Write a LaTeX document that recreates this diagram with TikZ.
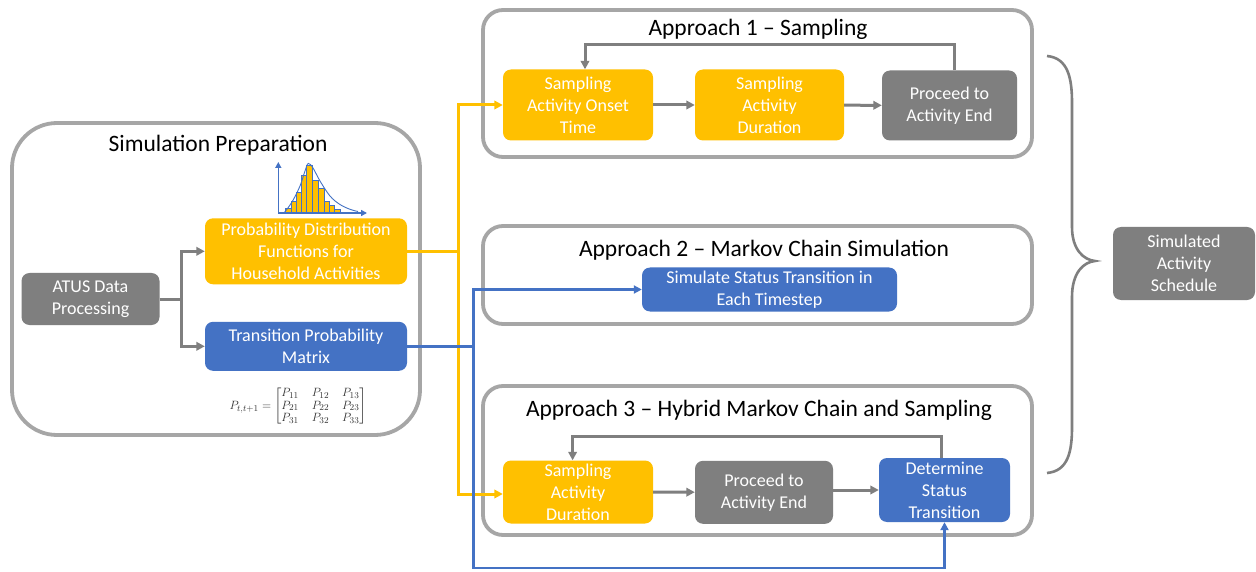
\documentclass[tikz,border=0pt]{standalone}
\usepackage{fontspec}
\setmainfont{Carlito}
\usepackage{amsmath}
\usetikzlibrary{arrows.meta}
\definecolor{cyel}{HTML}{FFC000}
\definecolor{cblue}{HTML}{4472C4}
\definecolor{cgray}{HTML}{7F7F7F}
\definecolor{cborder}{HTML}{A6A6A6}
\begin{document}
\begin{tikzpicture}[x=1pt,y=-1pt,
  container/.style={draw=cborder, line width=3.8pt, rounded corners=20pt, inner sep=0pt},
  boxbase/.style={rounded corners=8pt, text=white, align=center, font=\fontsize{18}{22}\selectfont, inner sep=0pt},
  ybox/.style={boxbase, fill=cyel},
  bbox/.style={boxbase, fill=cblue},
  gbox/.style={boxbase, fill=cgray},
  ttl/.style={anchor=base, font=\fontsize{23.5}{28}\selectfont, inner sep=0pt},
  garrow/.style={draw=cgray, line width=3pt, -{Triangle[length=8.5pt,width=8.5pt]}},
  yarrow/.style={draw=cyel, line width=3pt, -{Triangle[length=8.5pt,width=8.5pt]}},
  barrow/.style={draw=cblue, line width=2.5pt, -{Triangle[length=8pt,width=8pt]}},
]
\useasboundingbox (0,0) rectangle (1256,572);
\fill[white] (0,0) rectangle (1256,572);

% containers
\node[container, rounded corners=45pt, minimum width=408, minimum height=312] (prep) at (216,279) {};
\node[container, minimum width=549, minimum height=147] (ap1) at (757.5,83.5) {};
\node[container, minimum width=549, minimum height=98] (ap2) at (757.5,275) {};
\node[container, minimum width=549, minimum height=149] (ap3) at (757.5,460.5) {};

% titles
\node[ttl] (tprep) at (218,151.7) {Simulation Preparation};
\node[ttl] (tap1) at (758,35.7) {Approach 1 – Sampling};
\node[ttl] (tap2) at (764,256.7) {Approach 2 – Markov Chain Simulation};
\node[ttl] (tap3) at (759,416.7) {Approach 3 – Hybrid Markov Chain and Sampling};

% simulation preparation boxes
\node[gbox, minimum width=138, minimum height=52] (atus) at (90.5,299) {ATUS Data\\Processing};
\node[ybox, minimum width=202, minimum height=66] (pdf) at (306,251.3) {Probability Distribution\\Functions for\\Household Activities};
\node[bbox, minimum width=202, minimum height=49] (tpm) at (306,346.3) {Transition Probability\\Matrix};

% histogram
\foreach \xa/\xb/\yt in {285.7/291/208.3, 291/296.3/201.7, 296.3/301.7/192.7, 301.7/306.7/175, 306.7/312.3/165, 312.3/318.3/180.7, 318.3/324/188.3, 324/329.3/201.7, 329.3/334.7/205, 334.7/340/209.3}
  \filldraw[fill=cyel, draw=cblue, line width=0.6pt] (\xa,213) rectangle (\xb,\yt);
\draw[cblue, line width=0.9pt] plot[smooth, tension=0.6] coordinates {(284,213) (292,202) (300,186) (305,171) (308.3,163.5) (313,168) (320,181) (330,196) (340,204.5) (350,209.3) (358,211.5)};
\draw[cblue, line width=1.6pt, -{Triangle[length=6pt,width=6pt]}] (278.3,213) -- (278.3,162);
\draw[cblue, line width=1.6pt, -{Triangle[length=6pt,width=6pt]}] (278.3,213) -- (367,213);

% matrix
\node[font=\fontsize{12.5}{12.5}\selectfont, text=black!80, inner sep=0pt] (mat) at (298,406.5)
  {\setlength\arraycolsep{6.5pt}$P_{t,t+1} = \begin{bmatrix} P_{11} & P_{12} & P_{13}\\ P_{21} & P_{22} & P_{23}\\ P_{31} & P_{32} & P_{33}\end{bmatrix}$};

% approach 1
\node[ybox, minimum width=150, minimum height=71] (onset) at (578,105) {Sampling\\Activity Onset\\Time};
\node[ybox, minimum width=149, minimum height=71] (dur1) at (769.5,105) {Sampling\\Activity\\Duration};
\node[gbox, minimum width=135, minimum height=70] (proc1) at (949.5,105.5) {Proceed to\\Activity End};

% approach 2
\node[bbox, minimum width=255, minimum height=44] (sim) at (769.5,289.5) {Simulate Status Transition in\\Each Timestep};

% approach 3
\node[ybox, minimum width=150, minimum height=63] (dur3) at (578,492) {Sampling\\Activity\\Duration};
\node[gbox, minimum width=138, minimum height=63] (proc3) at (764,492.3) {Proceed to\\Activity End};
\node[bbox, minimum width=131, minimum height=64] (det) at (944.5,490) {Determine\\Status\\Transition};

% output
\node[gbox, minimum width=142, minimum height=73] (out) at (1184,263.5) {Simulated\\Activity\\Schedule};

% brace
\draw[cgray, line width=2.6pt] (1047,56) .. controls (1068,58) and (1072,78) .. (1072,103) -- (1072,227)
  .. controls (1072,250) and (1084,260) .. (1095,261)
  .. controls (1084,262) and (1072,272) .. (1072,297) -- (1072,427)
  .. controls (1072,452) and (1068,471) .. (1047,473);

% gray connectors in preparation
\coordinate (gsplit) at (181.7,299);
\draw[garrow] (atus.east) -- (gsplit) |- (pdf.west);
\draw[garrow] (atus.east) -- (gsplit) |- (tpm.west);

% yellow connectors
\coordinate (yv) at (458,251.3);
\draw[yarrow] (pdf.east) -- (yv) |- (onset.west);
\draw[yarrow] (pdf.east) -- (yv) |- ([yshift=-2pt]dur3.west);

% blue connectors
\coordinate (bv) at (473.5,346.3);
\coordinate (bb) at (473.5,568);
\draw[barrow] (tpm.east) -- (bv) |- (sim.west);
\draw[barrow] (tpm.east) -- (bv) -- (bb) -| (det.south);

% approach 1 flow
\draw[garrow] (onset) -- (dur1);
\draw[garrow] (dur1) -- (proc1);
\draw[garrow] ([xshift=4.5pt]proc1.north) -- ++(0,-26) -| ([xshift=7pt]onset.north);

% approach 3 flow
\draw[garrow] (dur3) -- (proc3);
\draw[garrow] (proc3.east |- det.west) -- (det.west);
\draw[garrow] ([xshift=-3pt]det.north) -- ++(0,-21.3) -| ([xshift=-5.4pt]dur3.north);
\end{tikzpicture}
\end{document}
